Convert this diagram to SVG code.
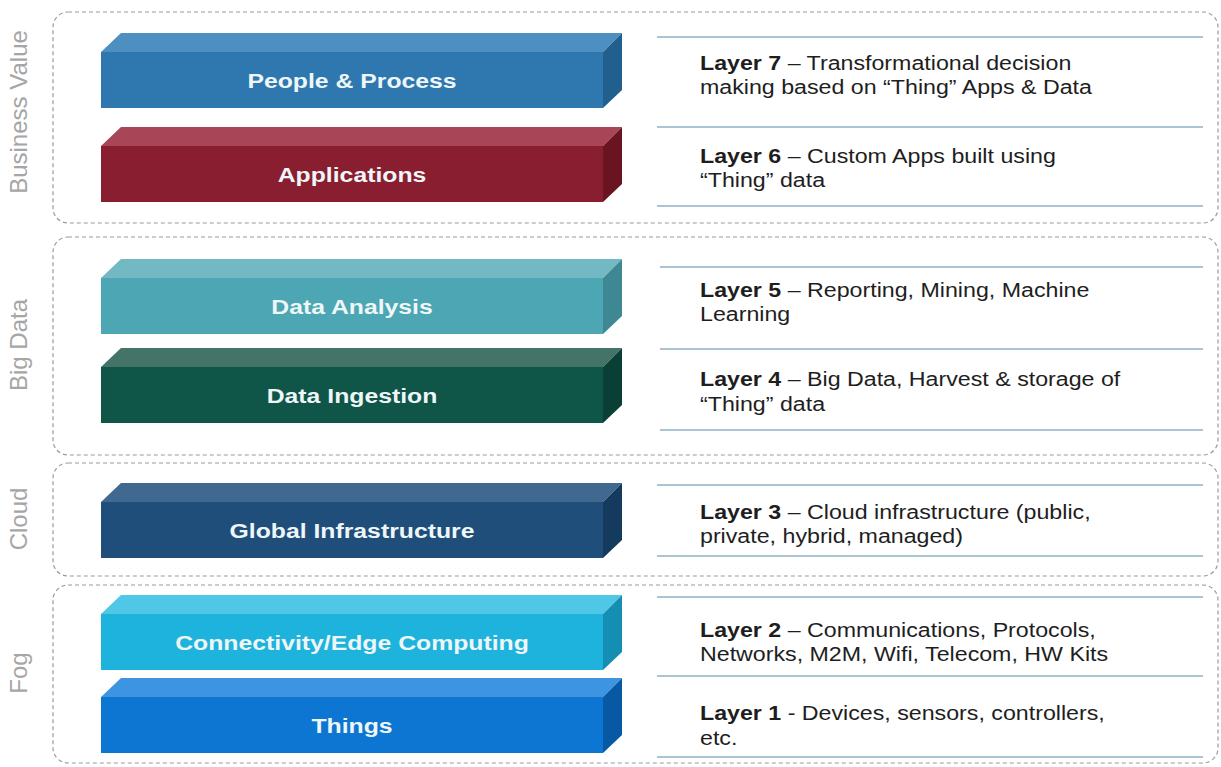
<svg xmlns="http://www.w3.org/2000/svg" width="1221" height="767" viewBox="0 0 1221 767">
  <style>
    .grp { fill: none; stroke: #9a9a9a; stroke-width: 1.2; stroke-dasharray: 4 3; }
    .side-label { font-family: "Liberation Sans", Arial, sans-serif; font-size: 24px; fill: #a6a6a6; text-anchor: middle; }
    .bar-label { font-family: "Liberation Sans", Arial, sans-serif; font-size: 21px; font-weight: bold; fill: #eef6f8; text-anchor: middle; }
    .rule { stroke: #8fb1c6; stroke-width: 1.6; }
    .desc { font-family: "Liberation Sans", Arial, sans-serif; font-size: 19.5px; fill: #1e1e1e; }
    .desc tspan.b { font-weight: bold; }
  </style>

  <rect width="1221" height="767" fill="#ffffff"/>

  <!-- group frames -->
  <g id="groups">
    <rect class="grp" x="53" y="12" width="1165" height="211" rx="15"/>
    <rect class="grp" x="53" y="237" width="1165" height="218" rx="15"/>
    <rect class="grp" x="53" y="463" width="1165" height="113" rx="15"/>
    <rect class="grp" x="53" y="585" width="1165" height="178" rx="15"/>
  </g>

  <!-- group titles, read bottom-to-top -->
  <g id="group-titles">
    <text class="side-label" transform="translate(27,112) rotate(-90)">Business Value</text>
    <text class="side-label" transform="translate(27,345) rotate(-90)">Big Data</text>
    <text class="side-label" transform="translate(27,519) rotate(-90)">Cloud</text>
    <text class="side-label" transform="translate(27,673) rotate(-90)">Fog</text>
  </g>

  <!-- 3D bars: front face 101..603, depth offset (20,-19) -->
  <g id="people-process">
    <polygon points="101,52 121,33 622,33 603,52" fill="#4d8fc0"/>
    <polygon points="603,52 622,33 622,90 603,108" fill="#215f8f"/>
    <rect x="101" y="52" width="502" height="56" fill="#2f78af"/>
    <text class="bar-label" transform="translate(352,88) scale(1.18,1)">People &amp; Process</text>
  </g>
  <g id="applications">
    <polygon points="101,146 121,127 622,127 603,146" fill="#a84658"/>
    <polygon points="603,146 622,127 622,184 603,202" fill="#6a1422"/>
    <rect x="101" y="146" width="502" height="56" fill="#891e30"/>
    <text class="bar-label" transform="translate(352,182) scale(1.18,1)">Applications</text>
  </g>
  <g id="data-analysis">
    <polygon points="101,278 121,259 622,259 603,278" fill="#72b9c3"/>
    <polygon points="603,278 622,259 622,316 603,334" fill="#3d8892"/>
    <rect x="101" y="278" width="502" height="56" fill="#4ca6b3"/>
    <text class="bar-label" transform="translate(352,314) scale(1.18,1)">Data Analysis</text>
  </g>
  <g id="data-ingestion">
    <polygon points="101,367 121,348 622,348 603,367" fill="#447368"/>
    <polygon points="603,367 622,348 622,405 603,423" fill="#0a3f36"/>
    <rect x="101" y="367" width="502" height="56" fill="#0f5548"/>
    <text class="bar-label" transform="translate(352,403) scale(1.18,1)">Data Ingestion</text>
  </g>
  <g id="global-infrastructure">
    <polygon points="101,502 121,483 622,483 603,502" fill="#41688f"/>
    <polygon points="603,502 622,483 622,540 603,558" fill="#143a5e"/>
    <rect x="101" y="502" width="502" height="56" fill="#1f4e7b"/>
    <text class="bar-label" transform="translate(352,538) scale(1.18,1)">Global Infrastructure</text>
  </g>
  <g id="connectivity-edge">
    <polygon points="101,614 121,595 622,595 603,614" fill="#4fc7e7"/>
    <polygon points="603,614 622,595 622,652 603,670" fill="#148eb2"/>
    <rect x="101" y="614" width="502" height="56" fill="#1db3dc"/>
    <text class="bar-label" transform="translate(352,650) scale(1.18,1)">Connectivity/Edge Computing</text>
  </g>
  <g id="things">
    <polygon points="101,697 121,678 622,678 603,697" fill="#3d95e2"/>
    <polygon points="603,697 622,678 622,735 603,753" fill="#0759a4"/>
    <rect x="101" y="697" width="502" height="56" fill="#0c76d2"/>
    <text class="bar-label" transform="translate(352,733) scale(1.18,1)">Things</text>
  </g>

  <!-- description rules -->
  <g id="rules">
    <line class="rule" x1="657" y1="37" x2="1203" y2="37"/>
    <line class="rule" x1="657" y1="127" x2="1203" y2="127"/>
    <line class="rule" x1="657" y1="206" x2="1203" y2="206"/>
    <line class="rule" x1="660" y1="267" x2="1203" y2="267"/>
    <line class="rule" x1="660" y1="349" x2="1203" y2="349"/>
    <line class="rule" x1="660" y1="430" x2="1203" y2="430"/>
    <line class="rule" x1="657" y1="485" x2="1203" y2="485"/>
    <line class="rule" x1="657" y1="556" x2="1203" y2="556"/>
    <line class="rule" x1="657" y1="597" x2="1203" y2="597"/>
    <line class="rule" x1="657" y1="676" x2="1203" y2="676"/>
    <line class="rule" x1="657" y1="757" x2="1203" y2="757"/>
  </g>

  <!-- layer descriptions (slightly widened type) -->
  <g id="layer-7-desc">
    <text class="desc" transform="translate(700,70) scale(1.19,1)"><tspan class="b">Layer 7</tspan> – Transformational decision</text>
    <text class="desc" transform="translate(700,94) scale(1.19,1)">making based on “Thing” Apps &amp; Data</text>
  </g>
  <g id="layer-6-desc">
    <text class="desc" transform="translate(700,163) scale(1.19,1)"><tspan class="b">Layer 6</tspan> – Custom Apps built using</text>
    <text class="desc" transform="translate(700,187) scale(1.19,1)">“Thing” data</text>
  </g>
  <g id="layer-5-desc">
    <text class="desc" transform="translate(700,297) scale(1.19,1)"><tspan class="b">Layer 5</tspan> – Reporting, Mining, Machine</text>
    <text class="desc" transform="translate(700,321) scale(1.19,1)">Learning</text>
  </g>
  <g id="layer-4-desc">
    <text class="desc" transform="translate(700,386) scale(1.19,1)"><tspan class="b">Layer 4</tspan> – Big Data, Harvest &amp; storage of</text>
    <text class="desc" transform="translate(700,411) scale(1.19,1)">“Thing” data</text>
  </g>
  <g id="layer-3-desc">
    <text class="desc" transform="translate(700,519) scale(1.19,1)"><tspan class="b">Layer 3</tspan> – Cloud infrastructure (public,</text>
    <text class="desc" transform="translate(700,543) scale(1.19,1)">private, hybrid, managed)</text>
  </g>
  <g id="layer-2-desc">
    <text class="desc" transform="translate(700,637) scale(1.19,1)"><tspan class="b">Layer 2</tspan> – Communications, Protocols,</text>
    <text class="desc" transform="translate(700,661) scale(1.19,1)">Networks, M2M, Wifi, Telecom, HW Kits</text>
  </g>
  <g id="layer-1-desc">
    <text class="desc" transform="translate(700,720) scale(1.19,1)"><tspan class="b">Layer 1</tspan> - Devices, sensors, controllers,</text>
    <text class="desc" transform="translate(700,745) scale(1.19,1)">etc.</text>
  </g>
</svg>
